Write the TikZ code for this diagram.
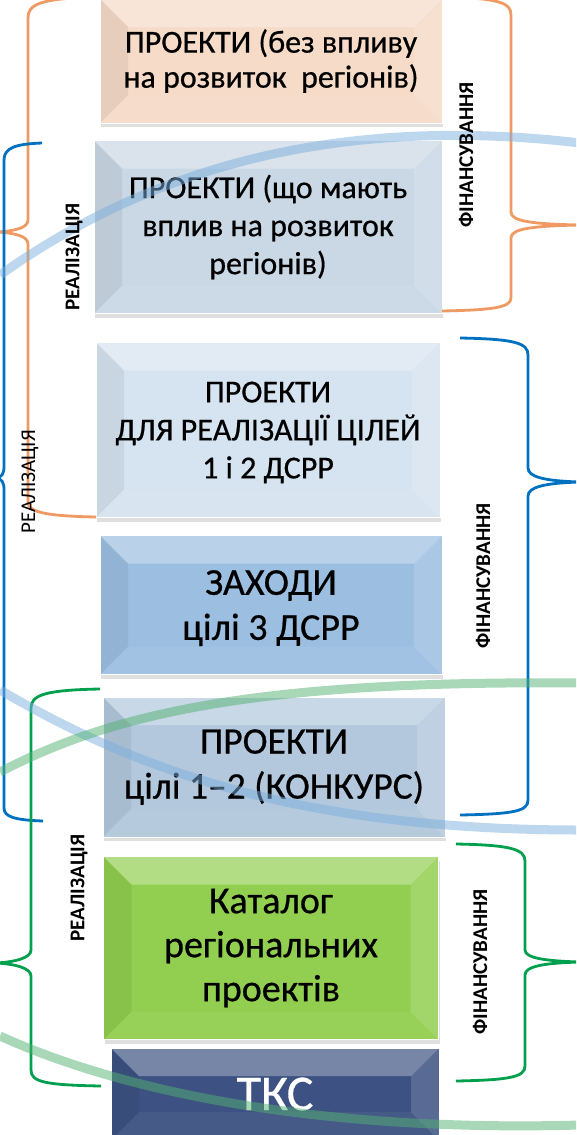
\documentclass[tikz,border=0pt]{standalone}
\usepackage{fontspec}
\setmainfont{Carlito}
\newfontfamily\boxfont{Carlito}[FakeBold=0.6]
\usetikzlibrary{shadows}
\definecolor{peach}{HTML}{F6DBC8}
\definecolor{greyblue}{HTML}{CAD8E5}
\definecolor{paleblue}{HTML}{D6E3F0}
\definecolor{midblue}{HTML}{9CBFE1}
\definecolor{steelblue}{HTML}{B3C8DC}
\definecolor{leafgreen}{HTML}{92CF50}
\definecolor{navy}{HTML}{3D5282}
\definecolor{braceorange}{HTML}{EF9A62}
\definecolor{braceblue}{HTML}{0070C0}
\definecolor{bracegreen}{HTML}{00A04E}
\definecolor{bandblue}{HTML}{7BAFDD}
\definecolor{bandgreen}{HTML}{51B171}
\tikzset{
  bevelbox/.style = {draw=white, line width=1pt, fill=#1, inner sep=0pt, align=center,
    drop shadow={shadow xshift=1pt, shadow yshift=-4pt, opacity=0.25},
    path picture={
      \fill[white, opacity=0.3] (path picture bounding box.north west) -- (path picture bounding box.north east)
        -- ([shift={(-28pt,-28pt)}]path picture bounding box.north east) -- ([shift={(28pt,-28pt)}]path picture bounding box.north west) -- cycle;
      \fill[black, opacity=0.06] (path picture bounding box.north west) -- ([shift={(28pt,-28pt)}]path picture bounding box.north west)
        -- ([shift={(28pt,28pt)}]path picture bounding box.south west) -- (path picture bounding box.south west) -- cycle;
      \fill[white, opacity=0.15] (path picture bounding box.north east) -- ([shift={(-28pt,-28pt)}]path picture bounding box.north east)
        -- ([shift={(-28pt,28pt)}]path picture bounding box.south east) -- (path picture bounding box.south east) -- cycle;
      \fill[white, opacity=0.05] (path picture bounding box.south west) -- ([shift={(28pt,28pt)}]path picture bounding box.south west)
        -- ([shift={(-28pt,28pt)}]path picture bounding box.south east) -- (path picture bounding box.south east) -- cycle;
    }},
}

\begin{document}
\begin{tikzpicture}[x=1pt, y=-1pt,
  brace/.style={line width=2.8pt},
  band/.style={line width=9pt, opacity=0.5},
  fin/.style={rotate=90, font=\bfseries\fontsize{21}{21}\selectfont},
  real/.style={rotate=90, font=\fontsize{21}{21}\selectfont}
]
\useasboundingbox (0,0) rectangle (576,1135);
\clip (0,0) rectangle (576,1135);

% Boxes
\node[bevelbox=peach, minimum width=342pt, minimum height=124pt, font=\boxfont\fontsize{32}{35}\selectfont]
  (nowplive) at (271,61) {ПРОЕКТИ (без впливу\\на розвиток~~регіонів)};
\node[bevelbox=greyblue, minimum width=348pt, minimum height=173pt, font=\boxfont\fontsize{32}{38}\selectfont]
  (vplyv) at (268,227) {ПРОЕКТИ (що мають\\вплив на розвиток\\регіонів)};
\node[bevelbox=paleblue, minimum width=344pt, minimum height=175pt, font=\boxfont\fontsize{32}{38}\selectfont, text depth=0pt]
  (cili12) at (268,430) {ПРОЕКТИ\\ДЛЯ РЕАЛІЗАЦІЇ ЦІЛЕЙ\\1 і 2 ДСРР};
\node[bevelbox=midblue, minimum width=342pt, minimum height=139pt, font=\boxfont\fontsize{38}{45}\selectfont, text depth=0pt]
  (zakhody) at (271,605) {ЗАХОДИ\\цілі 3 ДСРР};
\node[bevelbox=steelblue, minimum width=342pt, minimum height=140pt, font=\boxfont\fontsize{37.5}{45}\selectfont]
  (konkurs) at (274,767) {ПРОЕКТИ\\цілі 1–2 (КОНКУРС)};
\node[bevelbox=leafgreen, minimum width=335pt, minimum height=183pt, font=\boxfont\fontsize{38}{44}\selectfont]
  (katalog) at (271,948) {Каталог\\регіональних\\проектів};
\node[bevelbox=navy, minimum width=328pt, minimum height=92pt, text=white, font=\boxfont\fontsize{50}{50}\selectfont]
  (tks) at (275,1094) {ТКС};

% Braces
\draw[brace, braceorange] (100,-3) .. controls (38,-2) and (28,5) .. (28,18) -- (28,220)
  .. controls (28,228) and (15,231) .. (-4,232) .. controls (15,233) and (28,236) .. (28,244)
  -- (28,502) .. controls (28,512) and (45,516) .. (96,517);
\draw[brace, braceorange] (442,-3) .. controls (500,-2) and (511,3) .. (511,15) -- (511,212)
  .. controls (511,221) and (530,224) .. (580,225) .. controls (530,226) and (511,229) .. (511,238)
  -- (511,298) .. controls (511,308) and (490,310) .. (442,311);
\draw[brace, braceblue] (42,143) .. controls (15,144) and (4,148) .. (4,160) -- (4,466)
  .. controls (4,474) and (2,477) .. (-4,478) .. controls (2,479) and (4,482) .. (4,490)
  -- (4,808) .. controls (4,817) and (15,820) .. (43,821);
\draw[brace, braceblue] (460,338) .. controls (515,339) and (528,343) .. (528,355) -- (528,468)
  .. controls (528,477) and (545,481) .. (580,482) .. controls (545,483) and (528,487) .. (528,496)
  -- (528,800) .. controls (528,811) and (515,814) .. (460,815);
\draw[brace, bracegreen] (100,689) .. controls (45,690) and (31,695) .. (31,708) -- (31,950)
  .. controls (31,958) and (15,962) .. (-4,963) .. controls (15,964) and (31,968) .. (31,976)
  -- (31,1070) .. controls (31,1082) and (45,1085) .. (101,1086);
\draw[brace, bracegreen] (456,844) .. controls (510,845) and (525,849) .. (525,861) -- (525,950)
  .. controls (525,958) and (545,961) .. (580,962) .. controls (545,963) and (525,966) .. (525,975)
  -- (525,1066) .. controls (525,1077) and (510,1080) .. (456,1081);

% Bands
\draw[band, bandblue] (0,275) .. controls (120,190) and (300,110) .. (580,143);
\draw[band, bandblue] (0,690) .. controls (120,760) and (280,830) .. (580,830);
\draw[band, bandgreen] (0,772) .. controls (110,715) and (250,680) .. (580,683);
\draw[band, bandgreen] (0,1036) .. controls (130,1095) and (330,1132) .. (580,1125);

% Labels
\node[fin] (fin1) at (466,155) {ФІНАНСУВАННЯ};
\node[fin] (fin2) at (483,576) {ФІНАНСУВАННЯ};
\node[fin] (fin3) at (480,962) {ФІНАНСУВАННЯ};
\node[fin] (real1) at (74,257) {РЕАЛІЗАЦІЯ};
\node[real] (real2) at (30,482) {РЕАЛІЗАЦІЯ};
\node[fin] (real3) at (79,888) {РЕАЛІЗАЦІЯ};

\end{tikzpicture}
\end{document}
